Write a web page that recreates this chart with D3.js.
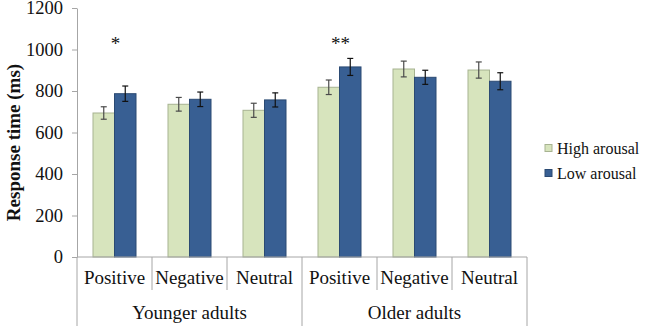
<!DOCTYPE html>
<html>
<head>
<meta charset="utf-8">
<script src="https://cdn.jsdelivr.net/npm/d3@7"></script>
<style>
    body { margin: 0; background: #fff; }
</style>
</head>
<body>
<div id="chart"></div>
<script>
const groups = ["Younger adults", "Older adults"];
const valences = ["Positive", "Negative", "Neutral"];
const seriesNames = ["High arousal", "Low arousal"];
const highArousal = [694, 736, 707, 818, 906, 901];
const lowArousal = [787, 760, 757, 916, 866, 847];
const highErr = [30, 33, 34, 35, 38, 39];
const lowErr = [37, 35, 34, 41, 34, 41];
const yTicks = [0, 200, 400, 600, 800, 1000, 1200];
const marks = ["*", "", "", "**", "", ""];

const width = 648, height = 326;
const plotLeft = 77, plotRight = 527, plotTop = 8, plotBottom = 257;
const serif = "'Liberation Serif', 'Times New Roman', Times, 'DejaVu Serif', serif";

const svg = d3.select("#chart").append("svg")
    .attr("width", width)
    .attr("height", height)
    .attr("font-family", serif)
    .style("font-family", serif);

const slots = [];
groups.forEach(g => valences.forEach(v => slots.push(g + "|" + v)));

const x = d3.scaleBand().domain(slots).range([plotLeft, plotRight]).padding(0);
const xs = d3.scaleBand().domain(seriesNames).range([16, x.bandwidth() - 16]).padding(0);
const y = d3.scaleLinear().domain([0, 1200]).range([plotBottom, plotTop]);

const colors = { "High arousal": "#d7e4bd", "Low arousal": "#385f93" };
const strokes = { "High arousal": "#a7b391", "Low arousal": "#2b4a73" };

// y axis
const yAxis = svg.append("g")
    .attr("transform", `translate(${plotLeft},0)`)
    .call(d3.axisLeft(y).tickValues(yTicks).tickFormat(d3.format("d"))
        .tickSize(5).tickPadding(9).tickSizeOuter(0));
yAxis.attr("font-family", null).attr("font-size", null);
yAxis.select(".domain").attr("stroke", "#a6a6a6");
yAxis.selectAll(".tick line").attr("stroke", "#a6a6a6");
yAxis.selectAll(".tick text")
    .style("font-size", "18.5px")
    .attr("fill", "#111");

svg.append("text")
    .attr("transform", `translate(20,${(plotTop + plotBottom) / 2 + 10}) rotate(-90)`)
    .attr("text-anchor", "middle")
    .attr("fill", "#111")
    .style("font-size", "19px")
    .style("font-weight", "bold")
    .text("Response time (ms)");

// bars
const rows = slots.map((s, i) => ({
    slot: s,
    values: [
        { name: "High arousal", v: highArousal[i], e: highErr[i] },
        { name: "Low arousal", v: lowArousal[i], e: lowErr[i] }
    ]
}));

const slotG = svg.selectAll(".slot")
    .data(rows)
    .enter()
    .append("g")
    .attr("class", "slot")
    .attr("transform", d => `translate(${x(d.slot)},0)`);

slotG.selectAll("rect")
    .data(d => d.values)
    .enter()
    .append("rect")
    .attr("x", d => xs(d.name))
    .attr("y", d => y(d.v))
    .attr("width", xs.bandwidth())
    .attr("height", d => plotBottom - y(d.v))
    .attr("fill", d => colors[d.name])
    .attr("stroke", d => strokes[d.name])
    .attr("stroke-width", 1);

const err = slotG.selectAll(".err")
    .data(d => d.values)
    .enter()
    .append("g")
    .attr("class", "err")
    .attr("stroke", d => d.name === "High arousal" ? "#4a4a4a" : "#111")
    .attr("stroke-width", 1.2);

err.append("line")
    .attr("x1", d => xs(d.name) + xs.bandwidth() / 2)
    .attr("x2", d => xs(d.name) + xs.bandwidth() / 2)
    .attr("y1", d => y(d.v + d.e))
    .attr("y2", d => y(d.v - d.e));
err.append("line")
    .attr("x1", d => xs(d.name) + xs.bandwidth() / 2 - 3)
    .attr("x2", d => xs(d.name) + xs.bandwidth() / 2 + 3)
    .attr("y1", d => y(d.v + d.e))
    .attr("y2", d => y(d.v + d.e));
err.append("line")
    .attr("x1", d => xs(d.name) + xs.bandwidth() / 2 - 3)
    .attr("x2", d => xs(d.name) + xs.bandwidth() / 2 + 3)
    .attr("y1", d => y(d.v - d.e))
    .attr("y2", d => y(d.v - d.e));

// significance marks
svg.selectAll(".mark")
    .data(slots)
    .enter()
    .append("text")
    .attr("class", "mark")
    .attr("x", d => x(d) + x.bandwidth() / 2 + 1)
    .attr("y", 50)
    .attr("text-anchor", "middle")
    .attr("fill", "#111")
    .style("font-size", "19px")
    .text((d, i) => marks[i]);

// x axis with category separators
const axisColor = "#a6a6a6";
svg.append("line")
    .attr("x1", plotLeft).attr("x2", plotRight)
    .attr("y1", plotBottom).attr("y2", plotBottom)
    .attr("stroke", axisColor);

svg.selectAll(".sep")
    .data(d3.range(slots.length + 1))
    .enter()
    .append("line")
    .attr("x1", i => i < slots.length ? x(slots[i]) : plotRight)
    .attr("x2", i => i < slots.length ? x(slots[i]) : plotRight)
    .attr("y1", plotBottom)
    .attr("y2", i => i % valences.length === 0 ? height : 290)
    .attr("stroke", axisColor);

svg.selectAll(".cat")
    .data(slots)
    .enter()
    .append("text")
    .attr("x", d => x(d) + x.bandwidth() / 2)
    .attr("y", 284)
    .attr("text-anchor", "middle")
    .attr("fill", "#111")
    .style("font-size", "19px")
    .text(d => d.split("|")[1]);

svg.selectAll(".grp")
    .data(groups)
    .enter()
    .append("text")
    .attr("x", (g, i) => x(slots[i * valences.length]) + x.bandwidth() * valences.length / 2)
    .attr("y", 319)
    .attr("text-anchor", "middle")
    .attr("fill", "#111")
    .style("font-size", "19px")
    .text(d => d);

// legend
const legend = svg.selectAll(".legend")
    .data(seriesNames)
    .enter()
    .append("g")
    .attr("transform", (d, i) => `translate(545,${148 + i * 25})`);
legend.append("rect")
    .attr("x", 0).attr("y", -3.5)
    .attr("width", 7).attr("height", 7)
    .attr("fill", d => colors[d])
    .attr("stroke", d => strokes[d]);
legend.append("text")
    .attr("x", 12)
    .attr("y", 6)
    .attr("fill", "#111")
    .style("font-size", "16px")
    .text(d => d);
</script>
</body>
</html>
